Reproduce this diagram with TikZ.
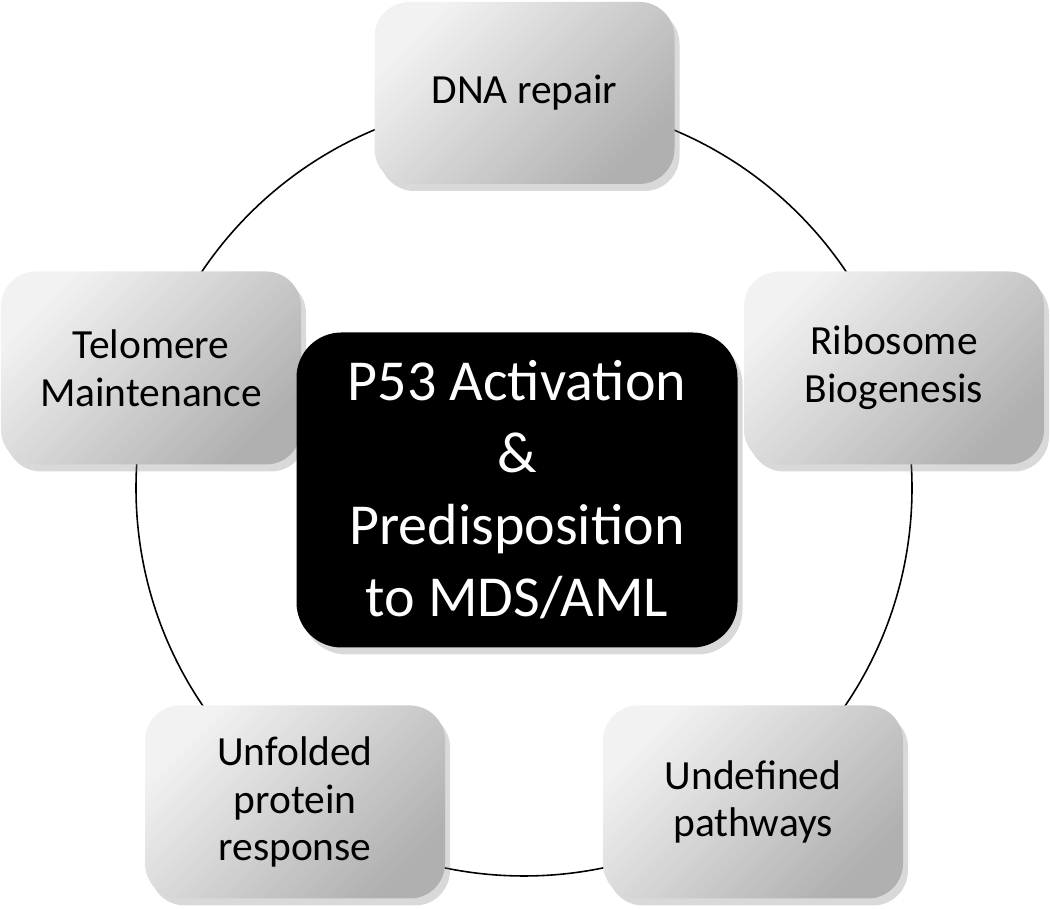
\documentclass[tikz,border=0pt]{standalone}
\usepackage{fontspec}
\setmainfont{Carlito}
\usepackage{tikz}
\usetikzlibrary{shadows}
\definecolor{boxlight}{RGB}{242,242,242}
\definecolor{boxdark}{RGB}{176,176,176}
\tikzset{
	pathnode/.style={rectangle, rounded corners=3.5mm, minimum width=3cm, minimum height=1.93cm, top color=boxlight, bottom color=boxdark, shading angle=45, align=center, font=\fontsize{11.8}{13.6}\selectfont, drop shadow={opacity=0.3, shadow xshift=0.5mm, shadow yshift=-0.7mm}},
	hubnode/.style={rectangle, rounded corners=4.5mm, fill=black, text=white, minimum width=4.41cm, minimum height=3.15cm, align=center, font=\fontsize{16.5}{20.5}\selectfont, drop shadow={opacity=0.3, shadow xshift=0.5mm, shadow yshift=-0.7mm}},
	ringline/.style={line width=0.45pt}
}

\begin{document}
\begin{tikzpicture}
		\useasboundingbox (0,0) rectangle (10.5,9.1);
		\coordinate (ring) at (5.24,4.22);
		\draw[ringline] (ring) circle[radius=3.88];
		\node[pathnode, minimum height=1.82cm] at (5.245,8.17) (dna) {DNA repair};
		\node[pathnode] at (1.51,5.42) (telo) {Telomere\\Maintenance};
		\node[pathnode] at (8.94,5.42) (ribo) {Ribosome\\Biogenesis};
		\node[pathnode] at (2.95,1.08) (upr) {Unfolded\\protein\\response};
		\node[pathnode] at (7.53,1.08) (undef) {Undefined\\pathways};
		\node[hubnode] at (5.17,4.20) (p53) {P53 Activation\\\&\\Predisposition\\to MDS/AML};
	\end{tikzpicture}
\end{document}
